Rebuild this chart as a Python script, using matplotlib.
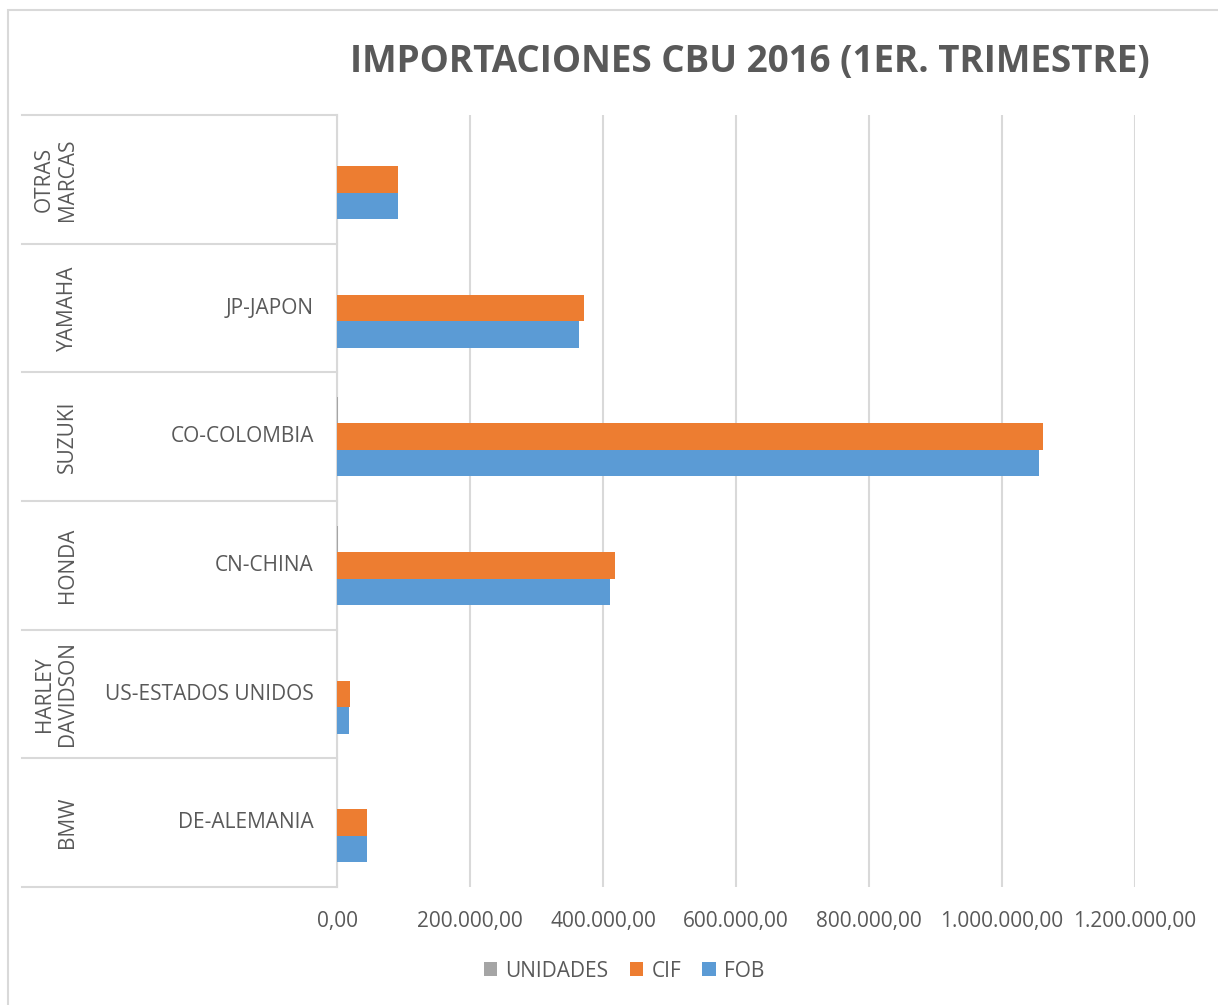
import matplotlib.pyplot as plt
import numpy as np
from matplotlib.ticker import FuncFormatter
from matplotlib.patches import Rectangle

# datos (de abajo hacia arriba)
marcas = ['BMW', 'HARLEY\nDAVIDSON', 'HONDA', 'SUZUKI', 'YAMAHA', 'OTRAS\nMARCAS']
paises = ['DE-ALEMANIA', 'US-ESTADOS UNIDOS', 'CN-CHINA', 'CO-COLOMBIA', 'JP-JAPON', '']
unidades = [60, 40, 900, 1100, 500, 200]
cif = [45000, 19500, 418000, 1061500, 371400, 92200]
fob = [44800, 18000, 410500, 1055600, 364400, 91300]

series = ['UNIDADES', 'CIF', 'FOB']
colores = ['#A5A5A5', '#ED7D31', '#5B9BD5']
gris_texto = '#595959'
gris_linea = '#D9D9D9'

plt.rcParams['font.family'] = ['Open Sans', 'DejaVu Sans']

fig = plt.figure(figsize=(12.18, 10.05), dpi=100)
ax = fig.add_axes([337 / 1218, 1 - 887 / 1005, 798 / 1218, 772 / 1005])

y = np.arange(len(marcas))
h = 0.206
ax.barh(y + h, unidades, height=h, color=colores[0], label=series[0], zorder=3)
ax.barh(y, cif, height=h, color=colores[1], label=series[1], zorder=3)
ax.barh(y - h, fob, height=h, color=colores[2], label=series[2], zorder=3)

ax.set_xlim(0, 1200000)
ax.set_ylim(-0.5, len(marcas) - 0.5)
ax.set_xticks(np.arange(0, 1200001, 200000))


def formato(v, pos):
    s = f'{v:,.2f}'
    return s.replace(',', 'X').replace('.', ',').replace('X', '.')


ax.xaxis.set_major_formatter(FuncFormatter(formato))
ax.tick_params(axis='x', length=0, pad=17, labelsize=15, labelcolor=gris_texto)
ax.set_yticks([])
ax.grid(axis='x', color=gris_linea, linewidth=1.5, zorder=0)
for lado in ['top', 'right', 'bottom']:
    ax.spines[lado].set_visible(False)
ax.spines['left'].set_color(gris_linea)
ax.spines['left'].set_linewidth(1.5)

# etiquetas de categorias en dos niveles
tr = ax.get_yaxis_transform()
for i in range(len(marcas)):
    ax.text(-0.029, i, paises[i], transform=tr, ha='right', va='center',
            fontsize=15, color=gris_texto)
    ax.text((78 - 337) / 798, i, marcas[i], transform=tr, ha='right', va='center',
            rotation=90, fontsize=15, color=gris_texto, linespacing=1.15,
            multialignment='center')
for b in np.arange(-0.5, len(marcas), 1):
    ax.plot([-0.395, 0], [b, b], transform=tr, color=gris_linea,
            linewidth=1.5, clip_on=False)

fig.text(750 / 1218, 1 - 62 / 1005, 'IMPORTACIONES CBU 2016 (1ER. TRIMESTRE)',
         ha='center', va='center', fontsize=26.5, fontweight='bold', color=gris_texto)

fig.legend(loc='center', bbox_to_anchor=(624 / 1218, 1 - 971 / 1005), ncol=3,
           frameon=False, fontsize=15, labelcolor=gris_texto, handlelength=0.65,
           handleheight=0.65, handletextpad=0.4, columnspacing=1.0)

fig.patches.append(Rectangle((8 / 1218, -0.1), 1.2, 1 - 10 / 1005 + 0.1,
                             transform=fig.transFigure, fill=False,
                             edgecolor=gris_linea, linewidth=1.5))

fig.savefig('out.png', dpi=100)
